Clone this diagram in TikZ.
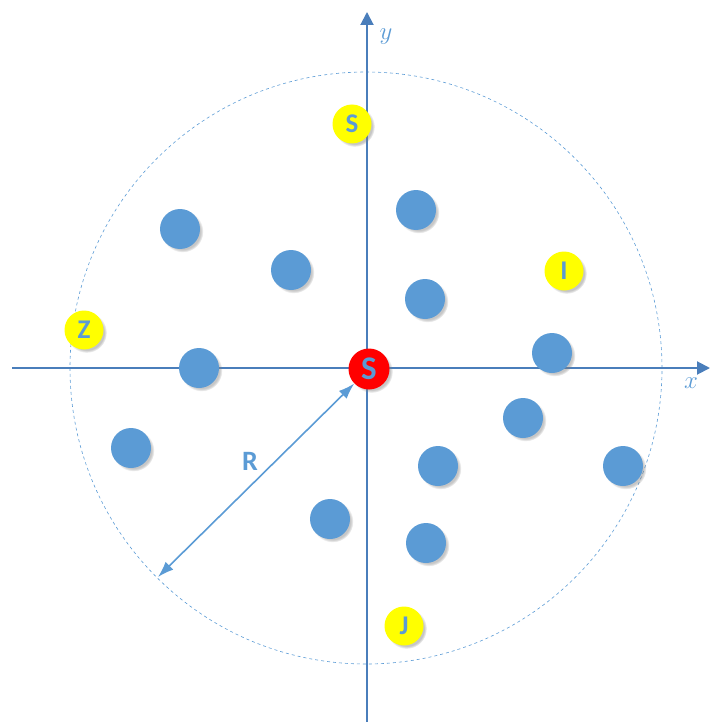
\documentclass[tikz,border=0pt]{standalone}
\usepackage{fontspec}
\setmainfont{Carlito}
\usetikzlibrary{arrows.meta,shadows}
\definecolor{dotblue}{HTML}{5B9BD5}
\definecolor{axisblue}{HTML}{4A7EBB}
\definecolor{ylw}{HTML}{FFFF00}
\newcommand{\tagtxt}[1]{{\fontsize{27}{27}\selectfont\bfseries #1}}
\newcommand{\ctrtxt}[1]{{\fontsize{33}{33}\selectfont\bfseries #1}}
\begin{document}
\begin{tikzpicture}[x=1pt,y=-1pt,
  dot/.style={circle,fill=dotblue,minimum size=40pt,inner sep=0pt,
    circular drop shadow={shadow xshift=2.5pt,shadow yshift=-2.5pt,opacity=0.45,shadow scale=1.04}},
  tag/.style={circle,fill=ylw,minimum size=39pt,inner sep=0pt,text=dotblue,
    circular drop shadow={shadow xshift=2.5pt,shadow yshift=-2.5pt,opacity=0.45,shadow scale=1.04}},
  axis/.style={draw=axisblue,line width=2pt,-{Triangle[length=13pt,width=13pt]}},
  ]
\useasboundingbox (0,0) rectangle (710,722);
% dashed circle
\node[draw=dotblue,dashed,circle,minimum size=592pt,inner sep=0pt,line width=0.6pt] (ring) at (366,368) {};
% axes
\coordinate (xs) at (12,368);
\coordinate (xe) at (710,368);
\coordinate (ys) at (367,722);
\coordinate (ye) at (367,12);
\draw[axis] (xs) -- (xe);
\draw[axis] (ys) -- (ye);
\node[text=dotblue] (xl) at (691,383) {\fontsize{30}{30}\selectfont$x$};
\node[text=dotblue] (yl) at (386,37) {\fontsize{30}{30}\selectfont$y$};
% blue dots
\node[dot] (d1) at (180,229) {};
\node[dot] (d2) at (291,270) {};
\node[dot] (d3) at (416,210) {};
\node[dot] (d4) at (425,299) {};
\node[dot] (d5) at (199,368) {};
\node[dot] (d6) at (552,353) {};
\node[dot] (d7) at (131,448) {};
\node[dot] (d8) at (523,418) {};
\node[dot] (d9) at (438,466) {};
\node[dot] (d10) at (623,466) {};
\node[dot] (d11) at (330,519) {};
\node[dot] (d12) at (426,543) {};
% yellow tags
\node[tag] (ts) at (352,124) {\tagtxt{S}};
\node[tag] (ti) at (564,271) {\tagtxt{I}};
\node[tag] (tz) at (84,330) {\tagtxt{Z}};
\node[tag] (tj) at (404,626) {\tagtxt{J}};
% centre
\node[tag,fill=red,minimum size=41pt] (c) at (369,369) {\ctrtxt{S}};
% radius
\coordinate (rp) at (158,577);
\draw[dotblue,line width=1.6pt,{Latex[length=16pt,width=11pt]}-{Latex[length=16pt,width=11pt]}] (rp) -- (c);
\node[text=dotblue] (rl) at (250,461) {\fontsize{28}{28}\selectfont\bfseries R};
\end{tikzpicture}
\end{document}
